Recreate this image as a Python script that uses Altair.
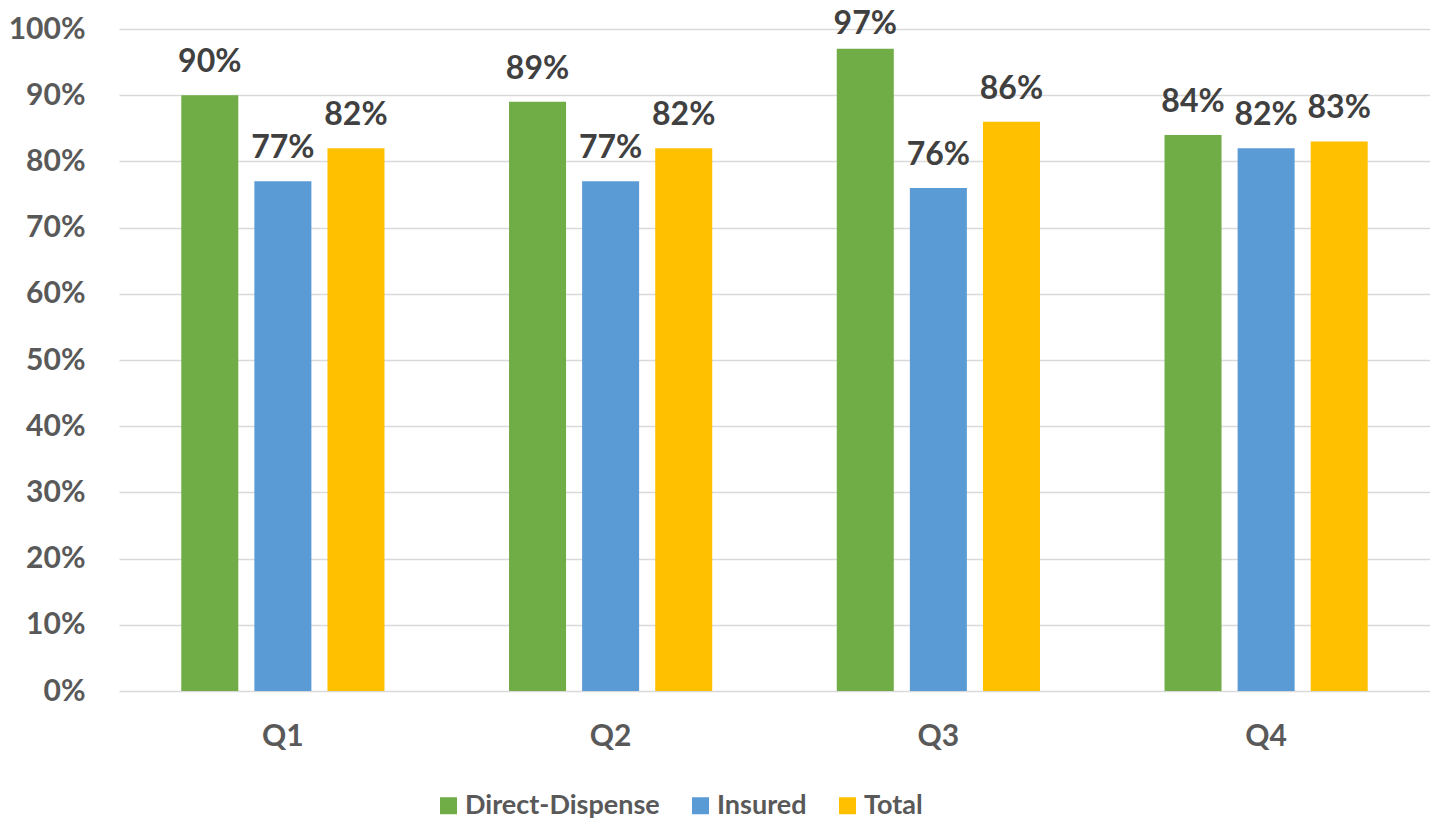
import altair as alt
import pandas as pd

quarters = ["Q1", "Q2", "Q3", "Q4"]
series = ["Direct-Dispense", "Insured", "Total"]
direct_dispense = [90, 89, 97, 84]
insured = [77, 77, 76, 82]
total = [82, 82, 86, 83]
colors = ["#70AD47", "#5B9BD5", "#FFC000"]
y_ticks = [0, 10, 20, 30, 40, 50, 60, 70, 80, 90, 100]

rows = []
for s, vals in zip(series, [direct_dispense, insured, total]):
    for q, v in zip(quarters, vals):
        rows.append({"quarter": q, "series": s, "value": v})
df = pd.DataFrame(rows)

FONT = "Lato"

x_enc = alt.X("quarter:N", sort=quarters, title=None,
              scale=alt.Scale(paddingInner=0.38, paddingOuter=0.19),
              axis=alt.Axis(labelAngle=0, labelFont=FONT, labelFontSize=30, labelFontWeight="bold",
                            labelColor="#595959", domain=False, ticks=False, labelPadding=30))
xoff_enc = alt.XOffset("series:N", sort=series, scale=alt.Scale(paddingInner=0.22, paddingOuter=0))
y_scale = alt.Scale(domain=[0, 100], nice=False)

bars = alt.Chart(df).mark_bar().encode(
    x=x_enc,
    xOffset=xoff_enc,
    y=alt.Y("value:Q", title=None, scale=y_scale,
            axis=alt.Axis(values=y_ticks, labelExpr="datum.value + '%'", labelFont=FONT,
                          labelFontSize=30, labelFontWeight="bold", labelColor="#595959",
                          domain=False, ticks=False, labelPadding=34, gridColor="#D9D9D9",
                          gridWidth=1.5)),
    color=alt.Color("series:N", sort=series, title=None,
                    scale=alt.Scale(domain=series, range=colors),
                    legend=alt.Legend(orient="none", direction="horizontal", legendX=316, legendY=763,
                                      symbolType="square", symbolSize=289, symbolStrokeWidth=0,
                                      labelFont=FONT, labelFontSize=27, labelFontWeight="bold",
                                      labelColor="#595959", labelOffset=3, columnPadding=27,
                                      labelLimit=0))
)

labels = alt.Chart(df).transform_calculate(
    label="datum.value + '%'",
    label_pos="min(datum.value + 3.5, 99.2)",
).mark_text(baseline="alphabetic", font=FONT, fontSize=32,
            fontWeight="bold", color="#404040").encode(
    x=x_enc,
    xOffset=xoff_enc,
    y=alt.Y("label_pos:Q", scale=y_scale),
    text="label:N",
)

chart = alt.layer(bars, labels).properties(
    width=1311, height=662,
    padding={"left": 111, "top": 21, "right": 0, "bottom": 130},
    autosize="none",
).configure_view(stroke=None)

chart.save("out.html", embed_options={"renderer": "svg", "actions": False})
